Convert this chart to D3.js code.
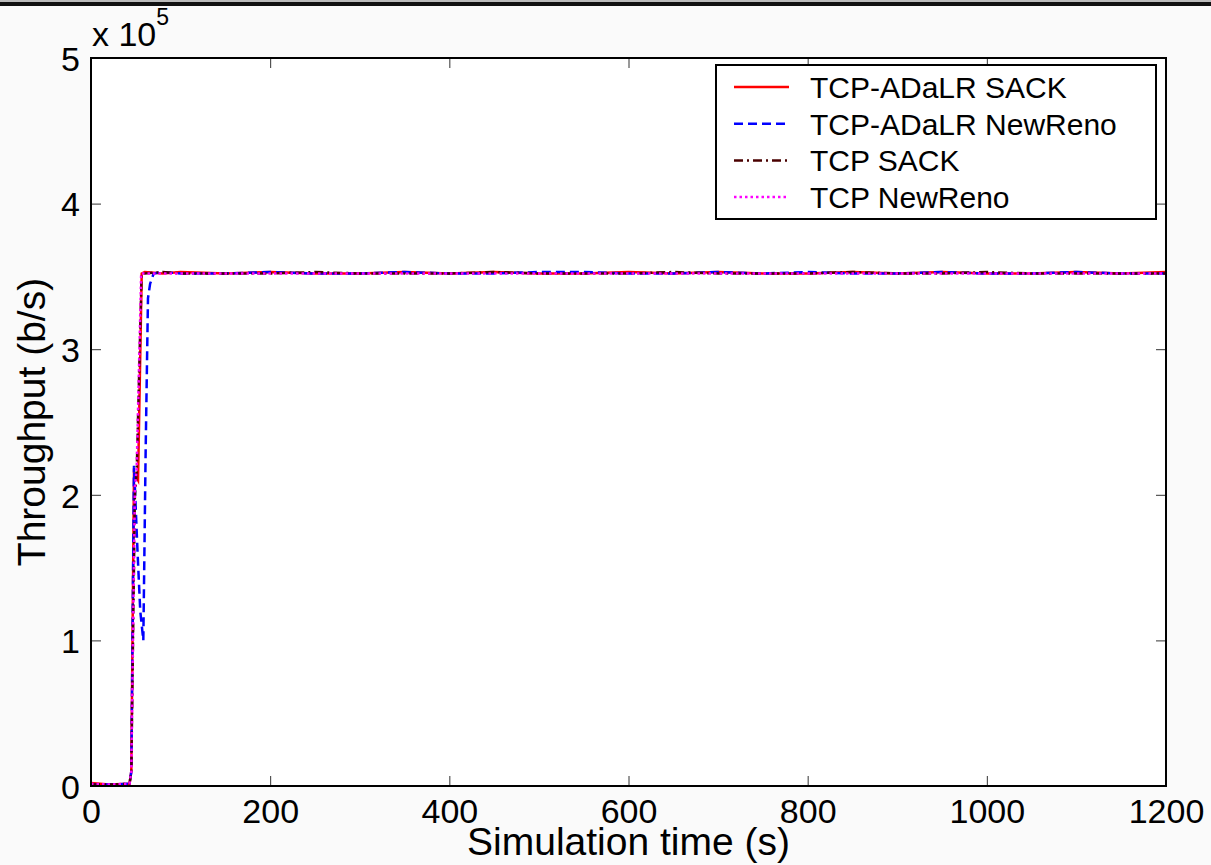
<!DOCTYPE html>
<html>
<head>
<meta charset="utf-8">
<script src="https://cdn.jsdelivr.net/npm/d3@7"></script>
<style>
	body { margin: 0; background: #fafafa; }
	text { font-family: "Liberation Sans", Arial, sans-serif; fill: #000; }
</style>
</head>
<body>
<script>
// series names, in plotting order (last one ends up on top)
var seriesNames = ["TCP-ADaLR SACK", "TCP-ADaLR NewReno", "TCP SACK", "TCP NewReno"];

// simulation time (s) for each series
var adalrSackTime = [0, 20, 43, 45, 48, 52.5, 56.6, 60, 80, 100, 150, 200, 250, 300, 350, 400, 450, 500, 550, 600, 650, 700, 750, 800, 850, 900, 950, 1000, 1050, 1100, 1150, 1200];
var adalrNewRenoTime = [0, 20, 43, 45, 48, 52, 55, 58.4, 61, 63.6, 66, 70, 80, 100, 150, 200, 250, 300, 350, 400, 450, 500, 550, 600, 650, 700, 750, 800, 850, 900, 950, 1000, 1050, 1100, 1150, 1200];
var sackTime = [0, 20, 43, 45, 49, 51, 56.5, 60, 80, 100, 150, 200, 250, 300, 350, 400, 450, 500, 550, 600, 650, 700, 750, 800, 850, 900, 950, 1000, 1050, 1100, 1150, 1200];
var newRenoTime = [0, 20, 43, 45, 49, 51, 56, 60, 80, 100, 150, 200, 250, 300, 350, 400, 450, 500, 550, 600, 650, 700, 750, 800, 850, 900, 950, 1000, 1050, 1100, 1150, 1200];

// throughput (b/s)
var adalrSackTput = [2000, 1000, 1500, 10000, 215000, 210000, 352000, 353000, 352000, 353000, 352000, 353000, 352000, 352000, 353000, 352000, 353000, 352000, 352000, 353000, 352000, 353000, 352000, 352000, 353000, 352000, 353000, 352000, 352000, 353000, 352000, 353000];
var adalrNewRenoTput = [1000, 1000, 1500, 10000, 220000, 160000, 120000, 100000, 230000, 335000, 345000, 352000, 353000, 352000, 352000, 353000, 352000, 352000, 353000, 352000, 352000, 353000, 353000, 352000, 352000, 353000, 352000, 353000, 352000, 352000, 353000, 352000, 352000, 353000, 352000, 352000];
var sackTput = [1000, 1000, 1500, 10000, 200000, 215000, 352000, 352000, 353000, 352000, 352000, 352000, 353000, 352000, 352000, 352000, 353000, 352000, 352000, 352000, 353000, 352000, 352000, 352000, 353000, 352000, 352000, 353000, 352000, 352000, 352000, 352000];
var newRenoTput = [1500, 1000, 1500, 10000, 205000, 218000, 352000, 352000, 352000, 352000, 352000, 352000, 352000, 352000, 352000, 352000, 352000, 352000, 352000, 352000, 352000, 352000, 352000, 352000, 352000, 352000, 352000, 352000, 352000, 352000, 352000, 352000];

var xTicks = [0, 200, 400, 600, 800, 1000, 1200];
var yTicks = [0, 100000, 200000, 300000, 400000, 500000];

var w = 1211,
		h = 865;
// plot box edges (note: "top" is a reserved window global, so use prefixed names)
var mLeft = 91, mRight = 1166, mTop = 58, mBottom = 786;

var svg = d3.select('body').append('svg').attr("width", w).attr("height", h);

// window frame line at the very top
svg.append('rect').attr("x", 0).attr("y", 0).attr("width", w).attr("height", 2).attr("fill", "#bbb");
svg.append('rect').attr("x", 0).attr("y", 2).attr("width", w).attr("height", 4).attr("fill", "#111");

var x = d3.scaleLinear().domain([0, 1200]).range([mLeft, mRight]);
var y = d3.scaleLinear().domain([0, 500000]).range([mBottom, mTop]);

// plot area
svg.append('rect')
	.attr("x", mLeft).attr("y", mTop)
	.attr("width", mRight - mLeft).attr("height", mBottom - mTop)
	.attr("fill", "#fff");

// inside ticks on all four sides (matlab style)
var fmtY = function(d) { return d / 100000; };

svg.append('g').attr("transform", "translate(0," + mBottom + ")")
	.call(d3.axisBottom(x).tickValues(xTicks).tickSize(-10).tickPadding(6).tickFormat(d3.format("d")))
	.call(function(g) {
		g.select('.domain').remove();
		g.selectAll('line').attr("stroke", "#333");
		g.selectAll('text').attr("font-size", 34).attr("dy", "0.71em").attr("y", 13);
	});
svg.append('g').attr("transform", "translate(0," + mTop + ")")
	.call(d3.axisTop(x).tickValues(xTicks).tickSize(-10).tickFormat(""))
	.call(function(g) {
		g.select('.domain').remove();
		g.selectAll('line').attr("stroke", "#333");
	});
svg.append('g').attr("transform", "translate(" + mLeft + ",0)")
	.call(d3.axisLeft(y).tickValues(yTicks).tickSize(-10).tickPadding(10).tickFormat(fmtY))
	.call(function(g) {
		g.select('.domain').remove();
		g.selectAll('line').attr("stroke", "#333");
		g.selectAll('text').attr("font-size", 34).attr("x", -11).attr("dy", "0.36em");
	});
svg.append('g').attr("transform", "translate(" + mRight + ",0)")
	.call(d3.axisRight(y).tickValues(yTicks).tickSize(-10).tickFormat(""))
	.call(function(g) {
		g.select('.domain').remove();
		g.selectAll('line').attr("stroke", "#333");
	});

// the lines
var seriesTime = [adalrSackTime, adalrNewRenoTime, sackTime, newRenoTime];
var seriesTput = [adalrSackTput, adalrNewRenoTput, sackTput, newRenoTput];
var colors = ["#ff0000", "#0000ff", "#4a0000", "#ff00ff"];
var dashes = [null, "9,5", "9,4,2,4", "2.5,3"];

var line = d3.line().x(function(d) { return x(d[0]); }).y(function(d) { return y(d[1]); });

var gLines = svg.append('g');
for (var i = 0; i < seriesNames.length; i++) {
	var pts = d3.zip(seriesTime[i], seriesTput[i]);
	gLines.append('path')
		.datum(pts)
		.attr("d", line)
		.attr("fill", "none")
		.attr("stroke", colors[i])
		.attr("stroke-width", 2.5)
		.attr("stroke-dasharray", dashes[i]);
}

// axes box
svg.append('rect')
	.attr("x", mLeft).attr("y", mTop)
	.attr("width", mRight - mLeft).attr("height", mBottom - mTop)
	.attr("fill", "none").attr("stroke", "#000").attr("stroke-width", 2);

// exponent label
var expo = svg.append('text').attr("x", mLeft + 1).attr("y", 46).attr("font-size", 34);
expo.append('tspan').text("x 10");
expo.append('tspan').attr("font-size", 23).attr("dy", -21).text("5");

// axis titles
svg.append('text')
	.attr("x", (mLeft + mRight) / 2).attr("y", 855)
	.attr("text-anchor", "middle").attr("font-size", 39)
	.text("Simulation time (s)");
svg.append('text')
	.attr("transform", "translate(45," + ((mTop + mBottom) / 2) + ") rotate(-90)")
	.attr("text-anchor", "middle").attr("font-size", 39)
	.text("Throughput (b/s)");

// legend
var lg = svg.append('g');
lg.append('rect')
	.attr("x", 716).attr("y", 65).attr("width", 440).attr("height", 154)
	.attr("fill", "#fff").attr("stroke", "#000").attr("stroke-width", 2);
for (var j = 0; j < seriesNames.length; j++) {
	var ly = 87 + j * 36.7;
	lg.append('line')
		.attr("x1", 734).attr("x2", 789).attr("y1", ly).attr("y2", ly)
		.attr("stroke", colors[j]).attr("stroke-width", 2.5)
		.attr("stroke-dasharray", dashes[j]);
	lg.append('text')
		.attr("x", 810).attr("y", ly).attr("dy", "0.36em")
		.attr("font-size", 30)
		.text(seriesNames[j]);
}
</script>
</body>
</html>
